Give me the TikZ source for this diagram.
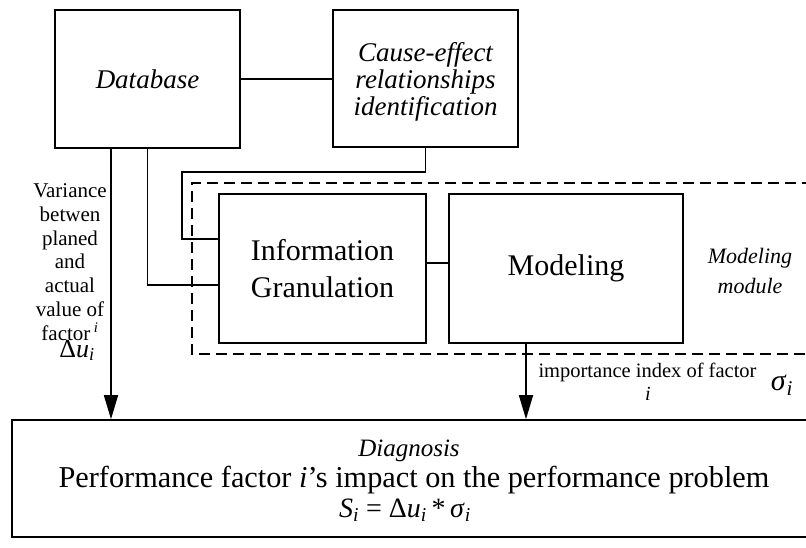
\documentclass[tikz,border=0pt]{standalone}
\usepackage{fontspec}
\setmainfont{Liberation Serif}
\usetikzlibrary{arrows.meta}
% italic symbol with an italic subscript
\newcommand{\vsub}[2]{\textit{#1}\textsubscript{\textit{#2}}}

\begin{document}
\begin{tikzpicture}[x=1pt,y=-1pt,
  box/.style={draw, line width=1.6pt, inner sep=0pt, align=center},
  link/.style={line width=1.6pt},
  flow/.style={line width=1.6pt, -{Triangle[length=24pt,width=14pt]}},
  fence/.style={line width=1.6pt, dash pattern=on 11pt off 6pt},
  lbl/.style={inner sep=0pt, align=center},
  txt/.style={inner sep=0pt, anchor=base}]
\useasboundingbox (0,0) rectangle (806,547);
\clip (0,0) rectangle (806,547);

% blocks
\node[box, minimum width=185pt, minimum height=138pt,
      font=\fontsize{27}{30}\selectfont\itshape] (db) at (147.5,79) {Database};
\node[box, minimum width=185pt, minimum height=137pt] (ce) at (425.5,78.5) {};
\node[lbl, font=\fontsize{27}{27}\selectfont\itshape] (cetext) at (425.5,82)
      {Cause-effect\\relationships\\identification};
\node[box, minimum width=207pt, minimum height=149pt,
      font=\fontsize{30}{37}\selectfont] (info) at (322.5,268.5)
      {Information\\Granulation};
\node[box, minimum width=234pt, minimum height=149pt,
      font=\fontsize{30}{36}\selectfont] (model) at (566,268.5) {Modeling};
\node[box, minimum width=796pt, minimum height=117pt] (diag) at (410,478.5) {};

% modeling module frame (open to the right)
\draw[fence] (830,183) -| (192,354) -- (830,354);
\node[lbl, font=\fontsize{22}{30}\selectfont\itshape] (modlbl) at (750,271)
      {Modeling\\module};

% routing helpers
\coordinate (xa) at (111,0);
\coordinate (xb) at (526,0);
\coordinate (xc) at (182,0);
\coordinate (ya) at (0,285);
\coordinate (yb) at (0,239);
\coordinate (yc) at (0,172);
\coordinate (yd) at (0,263);

% connectors
\draw[link] (db.east) -- (ce.west |- db.east);
\draw[flow] (db.south -| xa) -- (diag.north -| xa);
\draw[link] (db.south) -- (db.south |- ya) -- (info.west |- ya);
\draw[link] (ce.south) -- (ce.south |- yc) -- (xc |- yc) -- (xc |- yb) -- (info.west |- yb);
\draw[link] (info.east |- yd) -- (model.west |- yd);
\draw[flow] (model.south -| xb) -- (diag.north -| xb);

% variance label
\node[lbl, font=\fontsize{21}{23.8}\selectfont] (var) at (70,262)
      {Variance\\betwen\\planed\\and\\actual\\value of\\factor\,\textsuperscript{\textit{i}}};
\node[txt, font=\fontsize{26}{26}\selectfont] (du) at (77,357) {Δ\vsub{u}{i}};

% importance label
\node[txt, font=\fontsize{20.5}{24}\selectfont] (imp) at (647.5,377)
      {importance index of factor};
\node[txt, font=\fontsize{20}{24}\selectfont\itshape] (impi) at (648,400) {i};
\node[txt, font=\fontsize{30}{30}\selectfont] (sig) at (782,390) {\vsub{σ}{i}};

% diagnosis texts
\node[txt, font=\fontsize{25}{25}\selectfont\itshape] (dgT) at (409,456) {Diagnosis};
\node[txt, font=\fontsize{30.3}{31}\selectfont] (dgP) at (414,487)
      {Performance factor \textit{i}'s impact on the performance problem};
\node[txt, font=\fontsize{28}{28}\selectfont] (dgS) at (405,517)
      {\vsub{S}{i} = Δ\vsub{u}{i}\,*\,\vsub{σ}{i}};
\end{tikzpicture}
\end{document}
